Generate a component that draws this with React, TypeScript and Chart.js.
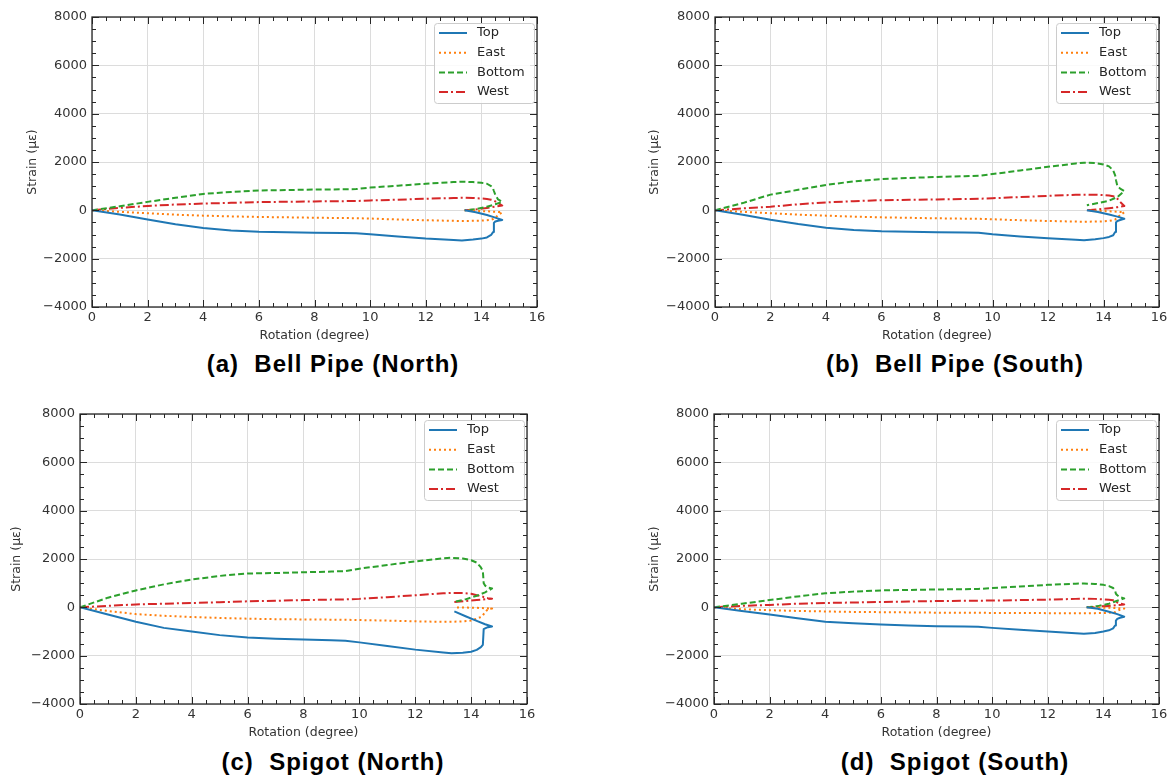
import React, { useEffect, useRef } from 'react';
import { Chart, registerables } from 'chart.js';

Chart.register(...registerables);

// ---------- data ----------
const rotation = [0, 1, 2, 3, 4, 5, 6, 7, 8, 9, 9.5, 10, 11, 12, 13, 13.3, 13.7, 14.0, 14.2, 14.35, 14.42, 14.45, 14.5, 14.6, 14.75, 14.5, 14.2, 13.8, 13.4];
const seriesNames = ['Top', 'East', 'Bottom', 'West'];
const xTicks = [0, 2, 4, 6, 8, 10, 12, 14, 16];
const yTicks = [-4000, -2000, 0, 2000, 4000, 6000, 8000];

// (a) Bell Pipe (North)
const topA = [0, -170, -380, -580, -730, -830, -890, -910, -930, -940, -945, -990, -1080, -1170, -1230, -1245, -1210, -1170, -1120, -1020, -900, -520, -460, -430, -400, -300, -190, -80, 0];
const eastA = [0, -60, -120, -180, -220, -250, -275, -290, -305, -320, -325, -340, -380, -410, -435, -440, -435, -425, -410, -390, -360, -340, -300, -200, -80, -60, -40, -20, 0];
const bottomA = [0, 170, 350, 520, 680, 760, 820, 840, 860, 870, 880, 940, 1020, 1100, 1170, 1185, 1170, 1140, 1100, 1000, 900, 800, 650, 450, 350, 250, 150, 50, 0];
const westA = [0, 100, 180, 240, 280, 310, 340, 355, 370, 380, 385, 410, 440, 480, 510, 520, 510, 490, 470, 440, 420, 400, 370, 300, 200, 150, 100, 40, 0];

// (b) Bell Pipe (South)
const topB = [0, -180, -390, -570, -720, -810, -870, -890, -910, -920, -925, -990, -1080, -1160, -1220, -1235, -1200, -1150, -1100, -1030, -900, -500, -440, -400, -350, -260, -170, -70, 0];
const eastB = [0, -60, -120, -180, -220, -260, -290, -310, -330, -345, -350, -370, -410, -440, -465, -470, -465, -455, -440, -410, -380, -350, -300, -200, -80, -60, -40, -20, 0];
const bottomB = [0, 300, 650, 850, 1050, 1200, 1290, 1340, 1380, 1410, 1430, 1500, 1650, 1800, 1940, 1970, 1960, 1900, 1820, 1650, 1450, 1250, 1000, 900, 800, 550, 400, 300, 210];
const westB = [0, 80, 150, 250, 330, 380, 420, 435, 450, 470, 480, 500, 550, 600, 640, 650, 645, 630, 610, 580, 560, 540, 480, 350, 180, 130, 90, 40, 0];

// (c) Spigot (North)
const topC = [0, -300, -600, -850, -1000, -1150, -1250, -1300, -1330, -1360, -1380, -1450, -1600, -1750, -1870, -1900, -1880, -1840, -1760, -1650, -1550, -900, -870, -820, -790, -700, -560, -370, -170];
const eastC = [0, -150, -280, -350, -400, -440, -470, -490, -500, -510, -515, -525, -550, -580, -600, -600, -580, -550, -470, -400, -330, -280, -200, -80, -50, -40, -20, -10, 0];
const bottomC = [0, 400, 700, 950, 1150, 1300, 1400, 1420, 1450, 1480, 1500, 1600, 1750, 1900, 2030, 2050, 2020, 1950, 1850, 1650, 1500, 1000, 900, 820, 780, 620, 480, 330, 230];
const westC = [0, 60, 120, 150, 180, 210, 250, 270, 300, 320, 330, 350, 420, 500, 580, 600, 590, 560, 500, 460, 440, 420, 400, 380, 360, 330, 300, 260, 220];

// (d) Spigot (South)
const topD = [0, -150, -300, -450, -600, -660, -710, -750, -780, -790, -800, -850, -930, -1000, -1070, -1090, -1060, -1000, -950, -870, -750, -550, -480, -430, -390, -280, -180, -60, 0];
const eastD = [0, -80, -120, -150, -170, -190, -200, -210, -220, -225, -228, -230, -235, -240, -245, -245, -240, -235, -225, -210, -200, -180, -150, -100, -50, -30, -20, -10, 0];
const bottomD = [0, 150, 300, 450, 580, 650, 700, 720, 740, 750, 760, 800, 860, 930, 980, 985, 970, 930, 880, 800, 700, 560, 500, 420, 370, 270, 150, 50, 0];
const westD = [0, 60, 100, 150, 180, 200, 220, 240, 260, 270, 275, 280, 300, 320, 350, 360, 350, 330, 310, 290, 270, 240, 200, 150, 120, 90, 60, 30, 0];

const panelTitles = ['(a)  Bell Pipe (North)', '(b)  Bell Pipe (South)', '(c)  Spigot (North)', '(d)  Spigot (South)'];
const panelSeries = [
  [topA, eastA, bottomA, westA],
  [topB, eastB, bottomB, westB],
  [topC, eastC, bottomC, westC],
  [topD, eastD, bottomD, westD],
];

// ---------- styles / layout ----------
const lineStyles = [
  { color: '#1f77b4', dash: [] as number[] },
  { color: '#ff7f0e', dash: [2, 3] },
  { color: '#2ca02c', dash: [6, 3] },
  { color: '#d62728', dash: [9, 3, 2, 3] },
];

const layouts = [
  { left: 22, top: 0, width: 527, yWidth: 70, titleCx: 333, titleTop: 350 },
  { left: 644, top: 0, width: 527, yWidth: 71, titleCx: 955, titleTop: 350 },
  { left: 6, top: 397, width: 533, yWidth: 74, titleCx: 333, titleTop: 748 },
  { left: 644, top: 397, width: 527, yWidth: 70, titleCx: 955, titleTop: 748 },
];
const CANVAS_H = 347;
const FONT = "'DejaVu Sans', sans-serif";

const frameLegendPlugin = {
  id: 'frameLegend',
  afterDatasetsDraw(chart: any) {
    const ctx = chart.ctx;
    const { left, right, top, bottom } = chart.chartArea;
    const xs = chart.scales.x;
    const ys = chart.scales.y;
    ctx.save();
    ctx.strokeStyle = '#262626';
    ctx.lineWidth = 1;
    const seg = (x1: number, y1: number, x2: number, y2: number) => {
      ctx.beginPath();
      ctx.moveTo(x1, y1);
      ctx.lineTo(x2, y2);
      ctx.stroke();
    };
    // x ticks (major every 2, minor every 0.5)
    for (let k = 0; k <= (xs.max - xs.min) / 0.5 + 1e-9; k++) {
      const v = xs.min + k * 0.5;
      const px = Math.round(xs.getPixelForValue(v)) + 0.5;
      const len = k % 4 === 0 ? 7 : 4;
      seg(px, bottom, px, bottom - len);
      seg(px, top, px, top + len);
    }
    // y ticks (major every 2000, minor every 500)
    for (let k = 0; k <= (ys.max - ys.min) / 500 + 1e-9; k++) {
      const v = ys.min + k * 500;
      const py = Math.round(ys.getPixelForValue(v)) + 0.5;
      const len = k % 4 === 0 ? 7 : 4;
      seg(left, py, left + len, py);
      seg(right, py, right - len, py);
    }
    ctx.lineWidth = 1.3;
    ctx.strokeRect(left, top, right - left, bottom - top);

    // legend
    const bw = 100;
    const bh = 80;
    const bx = right - 3 - bw;
    const by = top + 6;
    ctx.fillStyle = 'rgba(255,255,255,0.85)';
    ctx.strokeStyle = '#cccccc';
    ctx.lineWidth = 1;
    ctx.beginPath();
    (ctx as any).roundRect(bx + 0.5, by + 0.5, bw, bh, 3);
    ctx.fill();
    ctx.stroke();
    chart.data.datasets.forEach((ds: any, i: number) => {
      const cy = by + 10 + i * 19.7;
      ctx.strokeStyle = ds.borderColor;
      ctx.lineWidth = 2;
      ctx.setLineDash(ds.borderDash || []);
      seg(bx + 5, cy, bx + 33, cy);
      ctx.setLineDash([]);
      ctx.fillStyle = '#262626';
      ctx.font = `13px ${FONT}`;
      ctx.textBaseline = 'middle';
      ctx.textAlign = 'left';
      ctx.fillText(ds.label, bx + 43, cy);
    });
    ctx.restore();
  },
};

function Panel({ index }: { index: number }) {
  const ref = useRef<HTMLCanvasElement | null>(null);
  const lay = layouts[index];
  useEffect(() => {
    if (!ref.current) return;
    const series = panelSeries[index];
    const chart = new Chart(ref.current, {
      type: 'scatter',
      data: {
        datasets: series.map((vals, i) => ({
          label: seriesNames[i],
          data: rotation.map((r, j) => ({ x: r, y: vals[j] })),
          showLine: true,
          borderColor: lineStyles[i].color,
          backgroundColor: lineStyles[i].color,
          borderDash: lineStyles[i].dash,
          borderWidth: 2,
          borderCapStyle: 'butt',
          borderJoinStyle: 'round',
          pointRadius: 0,
          pointHoverRadius: 0,
          tension: 0,
        })),
      },
      options: {
        animation: false,
        responsive: false,
        events: [],
        layout: { padding: { top: 17, right: 12, left: 0, bottom: 0 } },
        plugins: { legend: { display: false }, tooltip: { enabled: false } },
        scales: {
          x: {
            type: 'linear',
            min: 0,
            max: 16,
            afterBuildTicks: (s: any) => {
              s.ticks = xTicks.map((v) => ({ value: v }));
            },
            afterFit: (s: any) => {
              s.height = 40;
            },
            ticks: { color: '#333', font: { family: FONT, size: 13 }, padding: 3, maxRotation: 0 },
            grid: { color: '#dcdcdc', lineWidth: 1, drawTicks: false },
            border: { display: false },
            title: { display: true, text: 'Rotation (degree)', color: '#333', font: { family: FONT, size: 12.5 }, padding: { top: 2, bottom: 4 } },
          },
          y: {
            type: 'linear',
            min: -4000,
            max: 8000,
            afterBuildTicks: (s: any) => {
              s.ticks = yTicks.map((v) => ({ value: v }));
            },
            afterFit: (s: any) => {
              s.width = lay.yWidth;
            },
            ticks: {
              color: '#333',
              font: { family: FONT, size: 13 },
              padding: 5,
              callback: (v: any) => String(v).replace('-', '\u2212'),
            },
            grid: { color: '#dcdcdc', lineWidth: 1, drawTicks: false },
            border: { display: false },
            title: { display: true, text: 'Strain (\u03bc\u03b5)', color: '#333', font: { family: FONT, size: 12.5 }, padding: { top: 3, bottom: 4 } },
          },
        },
      } as any,
      plugins: [frameLegendPlugin],
    });
    return () => chart.destroy();
  }, [index]);
  return (
    <canvas
      ref={ref}
      width={lay.width}
      height={CANVAS_H}
      style={{ position: 'absolute', left: lay.left, top: lay.top, width: lay.width, height: CANVAS_H }}
    />
  );
}

export default function App() {
  return (
    <div style={{ position: 'fixed', left: 0, top: 0, width: 1173, height: 779, background: '#fff', overflow: 'hidden' }}>
      {layouts.map((_, i) => (
        <Panel key={i} index={i} />
      ))}
      {layouts.map((lay, i) => (
        <div
          key={'t' + i}
          style={{
            position: 'absolute',
            left: lay.titleCx - 250,
            width: 500,
            top: lay.titleTop,
            textAlign: 'center',
            fontFamily: "'Liberation Sans', Arial, sans-serif",
            fontWeight: 'bold',
            fontSize: 24,
            lineHeight: '28px',
            letterSpacing: 1,
            whiteSpace: 'pre',
            color: '#000',
          }}
        >
          {panelTitles[i]}
        </div>
      ))}
    </div>
  );
}
